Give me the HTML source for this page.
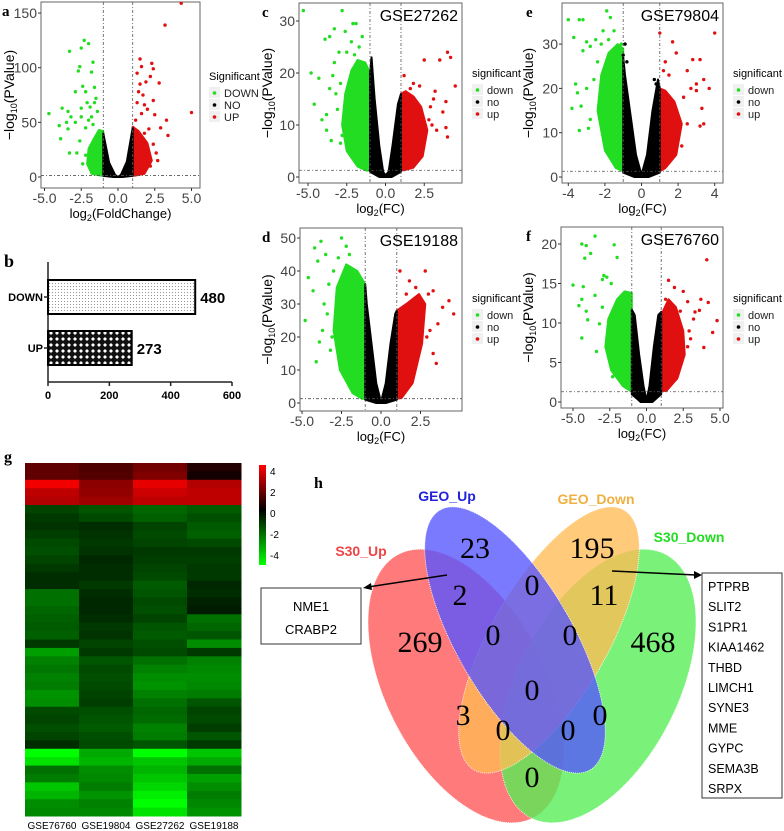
<!DOCTYPE html>
<html><head><meta charset="utf-8"><style>
body{margin:0;background:#fff;width:784px;height:831px;overflow:hidden}
svg{display:block;font-family:"Liberation Sans",sans-serif}
.ser{font-family:"Liberation Serif",serif}
</style></head><body>
<svg id="fig" width="784" height="831" viewBox="0 0 784 831" xmlns="http://www.w3.org/2000/svg">
<defs>
<pattern id="dots" width="3" height="3" patternUnits="userSpaceOnUse"><rect width="3" height="3" fill="#fff"/><rect x="1" y="1" width="1" height="1" fill="#999"/></pattern>
<pattern id="cross" width="6" height="6" patternUnits="userSpaceOnUse"><rect width="6" height="6" fill="#111"/><path d="M3 1 L5 3 L3 5 L1 3Z" fill="#fff"/></pattern>
<linearGradient id="cbar" x1="0" y1="0" x2="0" y2="1"><stop offset="0" stop-color="#ff0000"/><stop offset="0.45" stop-color="#000"/><stop offset="1" stop-color="#00ff00"/></linearGradient>
</defs>
<g id="panels"></g>
</svg>
<script>
// ---------- DATA ----------
const aGreen=[[-2.3,125],[-2.0,122],[-2.5,118],[-3.3,115],[-1.7,105],[-2.6,101],[-2.7,97],[-1.8,96],[-2.4,83],[-1.6,82],[-2.9,78],[-2.2,78],[-4.7,58],[-3.8,63],[-3.4,60],[-2.5,63],[-1.5,72],[-1.6,68],[-2.1,68],[-3.5,50],[-4.0,47],[-3.2,55],[-3.9,35],[-3.4,44],[-2.9,50],[-2.5,55],[-3.3,22],[-2.6,33],[-2.8,22],[-2.2,45],[-1.8,55],[-1.4,60],[-2.0,52],[-1.7,48],[-2.4,12],[-2.2,20],[-1.9,64]];
const aRed=[[3.2,139],[1.5,108],[2.3,104],[1.6,101],[2.4,99],[1.3,95],[2.2,92],[1.9,87],[1.5,85],[2.8,86],[5.0,59],[3.3,52],[3.4,38],[1.7,75],[2.4,70],[1.3,68],[2.0,62],[1.6,58],[2.5,57],[1.2,52],[2.9,45],[2.1,44],[1.8,40],[2.4,30],[2.6,22],[1.9,20],[2.7,15],[1.5,15],[2.2,10],[4.3,159],[1.4,78],[1.8,66]];
const aGreenCloud=[[-1,1.3],[-1,42],[-1.3,43],[-1.6,36],[-2.0,26],[-2.1,12],[-1.8,3],[-1.2,1.3]];
const aBlackCloud=[[-1,1],[-1,40],[-0.6,13],[-0.2,2],[0,0],[0.2,2],[0.6,14],[1,45],[1,1],[0.3,0],[-0.3,0]];
const aRedCloud=[[1,1.3],[1,46],[1.4,42],[2.0,31],[2.3,15],[1.8,3],[1.2,1.3]];

const cGreen=[[-5.3,32],[-2.8,32],[-2.1,29.5],[-1.9,29.5],[-3.3,28.5],[-3.6,27],[-3.9,26.5],[-2.6,28],[-4.8,20],[-4.3,19],[-4.6,14],[-3.8,12],[-4.1,11],[-3.8,9],[-3.5,7],[-3.3,22],[-3.6,17],[-3.0,24],[-2.9,18],[-3.1,13],[-2.8,8],[-2.2,26],[-1.7,25],[-1.5,27],[-3.2,16],[-2.9,6.5],[-2.5,24],[-2.0,23.5],[-3.4,19.5]];
const cRed=[[4.0,24],[4.2,23],[3.5,22.5],[2.5,22.5],[4.5,17.5],[3.1,15],[3.9,14.5],[3.2,16.5],[1.8,18],[1.2,19.5],[2.2,17.5],[3.7,12.5],[4.0,7.7],[3.3,9],[3.0,10],[3.9,9.5],[2.8,11],[2.9,13.5],[1.6,17]];
const cGreenCloud=[[-1,1.3],[-1,20],[-1.3,22],[-1.8,22.5],[-2.2,20.5],[-2.6,16],[-2.8,10],[-2.5,5],[-1.8,2],[-1.2,1.2]];
const cBlackCloud=[[-1,1],[-1,20],[-0.9,23],[-0.7,15],[-0.4,6],[-0.15,1],[0,0.3],[0.2,1],[0.45,6],[0.8,14],[1,16],[1,1],[0.4,0],[-0.4,0]];
const cRedCloud=[[1,1.3],[1,16],[1.3,16.5],[1.8,15.5],[2.3,13.5],[2.7,9],[2.4,4],[1.8,1.8],[1.2,1.3]];

const eGreen=[[-4,35.5],[-3.4,35.5],[-3.2,35.5],[-1.9,37.5],[-1.7,36],[-3.7,31.5],[-3,30.5],[-2.8,29.5],[-2.5,31],[-2.1,33],[-3.2,28.5],[-3.8,15.5],[-3.5,19],[-3.4,10.5],[-3.3,16],[-2.8,13],[-2.4,26],[-1.5,33],[-1.1,30],[-2.6,22],[-3.0,20],[-2.9,11],[-3.6,21],[-2.2,30],[-1.8,31]];
const eRed=[[4.0,32.5],[1.0,32.5],[1.7,30.5],[1.9,28],[1.3,26],[2.8,26.5],[3.2,26.5],[2.5,24],[3.4,22],[3.0,21],[2.7,20],[3.7,20],[3.0,19.5],[2.3,18],[3.3,15.5],[2.5,12],[3.4,12],[3.2,11.5],[2.2,7],[1.8,14],[1.5,23],[1.2,24]];
const eBlack=[[-0.9,30],[-1,27.5],[0.8,21],[0.7,22],[-0.8,26]];
const eGreenCloud=[[-1,1.3],[-1,29],[-1.3,30],[-1.8,28],[-2.2,23],[-2.4,15],[-2.0,6],[-1.4,2]];
const eBlackCloud=[[-1,1],[-1,27],[-0.9,23],[-0.6,14],[-0.3,5],[0,0.5],[0.3,5],[0.6,15],[0.9,22],[1,20],[1,1],[0.4,0],[-0.4,0]];
const eRedCloud=[[1,1.3],[1,20],[1.3,19.5],[1.8,17],[2.2,12],[1.9,5],[1.3,2]];

const dGreen=[[-2.5,50],[-3.8,49],[-4.2,47],[-2.2,47.5],[-3.5,45],[-4.0,43],[-4.6,38],[-4.8,25],[-3.9,18.5],[-4.1,12.5],[-3.2,16],[-3.6,30],[-3.3,36],[-4.3,34],[-3.0,40],[-2.9,24],[-2.0,45],[-1.6,37],[-3.7,22],[-3.4,27],[-2.7,44],[-3.1,20]];
const dRed=[[2.8,40],[1.2,40],[3.3,34],[3.0,33],[4.3,31],[4.6,27],[3.9,29],[2.2,35],[1.8,37],[3.5,12],[3.3,15],[2.9,20],[2.6,26],[3.1,22],[2.3,28],[1.6,33],[3.6,24]];
const dGreenCloud=[[-1,1.3],[-1,36],[-1.5,40],[-2.2,42],[-2.8,35],[-3.0,22],[-2.6,10],[-1.8,3],[-1.2,1.3]];
const dBlackCloud=[[-1,1],[-1,36],[-0.9,30],[-0.6,18],[-0.3,6],[0,0.3],[0.3,6],[0.6,18],[0.9,27],[1,28],[1,1],[0.3,0],[-0.3,0]];
const dRedCloud=[[1,1.3],[1,28],[1.6,30],[2.4,33],[2.8,30],[2.6,18],[2.0,6],[1.3,1.5]];

const fGreen=[[-3.5,21],[-4.4,20],[-4.1,19.8],[-2.2,19.9],[-3.8,18.8],[-2.0,18.3],[-4.2,18.2],[-5.0,14.8],[-4.3,14.6],[-2.9,16],[-3.0,15.5],[-2.7,15.8],[-2.4,15],[-4.4,13],[-4.6,12.2],[-4.1,11.5],[-4.0,10.4],[-4.4,8.1],[-3.2,9.9],[-3.4,6.4],[-2.3,3.2],[-2.6,7],[-3.0,12],[-3.5,13.5]];
const fRed=[[4.1,18],[1.5,15.4],[3.7,13],[4.2,12.6],[2.8,12.7],[3.3,11.4],[3.6,11.6],[4.8,10.3],[4.5,8.8],[3.2,10.5],[3.9,6.9],[2.9,9],[2.5,14],[1.9,14.5],[2.3,11.5],[3.0,8],[1.3,13],[2.8,7]];
const fGreenCloud=[[-1,1.3],[-1,13.8],[-1.5,14],[-2.0,13],[-2.6,10.5],[-2.8,7],[-2.4,4],[-1.6,2]];
const fBlackCloud=[[-1,1],[-1,11.7],[-0.8,11],[-0.5,6],[-0.2,2],[0,0.2],[0.2,2],[0.5,7],[0.8,11],[1,11.4],[1,1],[0.4,0],[-0.4,0]];
const fRedCloud=[[1,1.3],[1,11],[1.5,13],[2.0,12],[2.5,9],[2.6,6],[2.1,3],[1.4,1.5]];

const barCats=["DOWN","UP"];
const barVals=[480,273];
const barTicks=[0,200,400,600];

const heatCols=["GSE76760","GSE19804","GSE27262","GSE19188"];
const heatVals=[
[1.5,1.2,1.8,0.5],[1.5,1.3,2,0.3],[3.8,2.2,3.6,2.8],[3,2.3,3.2,3],[2.8,2.5,3,3],
[-1.2,-1.5,-1.8,-1.6],[-1.0,-1.3,-1.7,-1.4],[-0.9,-0.8,-1.2,-1.6],[-1.1,-0.9,-1.3,-1.7],[-1.3,-1.0,-1.2,-1.3],
[-1.4,-0.9,-1.0,-1.0],[-1.2,-0.7,-1.1,-1.1],[-1.0,-0.8,-1.2,-1.0],[-0.8,-0.8,-1.3,-1.0],[-0.8,-1.0,-1.6,-0.7],
[-2.0,-0.8,-1.5,-0.8],[-2.0,-0.7,-1.3,-0.6],[-1.8,-0.7,-1.4,-0.5],[-1.7,-0.8,-1.2,-2.0],[-1.6,-1.0,-1.5,-1.8],
[-1.7,-0.9,-1.6,-1.5],[-1.0,-1.2,-1.4,-2.5],[-2.8,-1.0,-1.3,-1.0],[-2.3,-1.5,-2.0,-2.3],[-2.1,-1.3,-2.3,-2.4],
[-2.3,-1.4,-2.5,-2.5],[-2.2,-1.3,-2.6,-2.4],[-2.6,-1.2,-2.3,-2.2],[-2.5,-1.1,-2.0,-1.5],[-1.3,-1.4,-1.8,-1.2],
[-1.2,-1.5,-1.9,-1.3],[-1.4,-1.6,-2.3,-1.1],[-1.2,-1.4,-2.2,-1.5],[-0.8,-1.3,-1.5,-1.0],[-4.5,-3.0,-4.8,-3.5],
[-4.0,-3.2,-3.5,-3.0],[-2.0,-2.5,-3.2,-2.0],[-2.2,-2.4,-3.5,-2.8],[-3.5,-2.2,-3.8,-2.5],[-3.2,-2.6,-4.2,-2.2],
[-2.5,-2.3,-4.5,-2.4],[-2.4,-2.4,-4.0,-2.6]];
const cbarTicks=[4,2,0,-2,-4];

const vennLabels=["S30_Up","GEO_Up","GEO_Down","S30_Down"];
const vennCounts=["23","195","2","0","11","269","0","0","468","0","3","0","0","0","0"];

// ---------- HELPERS ----------
const NS="http://www.w3.org/2000/svg";
const root=document.getElementById('panels');
function mk(tag,attrs,parent,text){const e=document.createElementNS(NS,tag);for(const k in attrs)e.setAttribute(k,attrs[k]);if(text!==undefined)e.textContent=text;(parent||root).appendChild(e);return e;}

function volcano(cfg){
  const g=mk('g',{});
  
  
  const X=v=>cfg.x0+v*cfg.ux, Y=v=>cfg.y0-v*cfg.uy;
  const bg=mk('rect',{x:cfg.l,y:cfg.t,width:cfg.r-cfg.l,height:cfg.b-cfg.t,fill:'#fff',stroke:'#666','stroke-width':1},g);
  
  
  const clipId='clip'+cfg.id;
  const cp=mk('clipPath',{id:clipId},g);mk('rect',{x:cfg.l,y:cfg.t,width:cfg.r-cfg.l,height:cfg.b-cfg.t},cp);
  const pg=mk('g',{'clip-path':'url(#'+clipId+')'},g);
  const poly=(arr,col,name)=>{const p=mk('polygon',{points:arr.map(d=>X(d[0])+','+Y(d[1])).join(' '),fill:col,stroke:col,'stroke-width':2,'stroke-linejoin':'round'},pg);
    
    };
  poly(cfg.gc,'#22dd22','down-cloud');
  poly(cfg.rc,'#e01010','up-cloud');
  poly(cfg.bc,'#000','no-cloud');
  const pts=(arr,col,name)=>arr.forEach(d=>{const c=mk('circle',{cx:X(d[0]),cy:Y(d[1]),r:1.7,fill:col},pg);
    
    });
  pts(cfg.gp,'#22dd22','down-point');pts(cfg.rp,'#e01010','up-point');if(cfg.bp)pts(cfg.bp,'#000','no-point');
  [-1,1].forEach(v=>mk('line',{x1:X(v),x2:X(v),y1:cfg.t,y2:cfg.b,stroke:'#555','stroke-dasharray':'3,2,1,2','stroke-width':0.8},pg));
  mk('line',{x1:cfg.l,x2:cfg.r,y1:Y(1.3),y2:Y(1.3),stroke:'#555','stroke-dasharray':'3,2,1,2','stroke-width':0.8},pg);
  cfg.xt.forEach(v=>{mk('line',{x1:X(v),x2:X(v),y1:cfg.b,y2:cfg.b+3,stroke:'#333'},g);
    const t=mk('text',{x:X(v),y:cfg.b+15,'text-anchor':'middle','font-size':14,fill:'#444'},g,cfg.xfmt(v));
    
    });
  cfg.yt.forEach(v=>{mk('line',{x1:cfg.l-3,x2:cfg.l,y1:Y(v),y2:Y(v),stroke:'#333'},g);
    const t=mk('text',{x:cfg.l-4,y:Y(v)+5,'text-anchor':'end','font-size':14,fill:'#444'},g,String(v));
    
    });
  const xt=mk('text',{x:(cfg.l+cfg.r)/2,y:cfg.b+30,'text-anchor':'middle','font-size':13},g);
  
  
  xt.innerHTML='log<tspan font-size="9" dy="3">2</tspan><tspan dy="-3">('+cfg.xlab+')</tspan>';
  const yc=(cfg.t+cfg.b)/2, yx=cfg.yx;
  const yt=mk('text',{x:yx,y:yc,'text-anchor':'middle','font-size':14,transform:'rotate(-90 '+yx+' '+yc+')'},g);
  
  
  yt.innerHTML='−log<tspan font-size="9" dy="3">10</tspan><tspan dy="-3">(PValue)</tspan>';
  if(cfg.gse){const s=mk('text',{x:cfg.r-4,y:cfg.t+18,'text-anchor':'end','font-size':16},g,cfg.gse);
    
    }
  const pl=mk('text',{x:cfg.px,y:cfg.t+14,'font-size':15,'font-weight':'bold',class:'ser'},g,cfg.id);
  
  
  const lg=mk('g',{},g);
  
  
  mk('text',{x:cfg.lx,y:cfg.ly,'font-size':11},lg,cfg.ltitle);
  cfg.litems.forEach((s,i)=>{const yy=cfg.ly+13+i*12;
    mk('rect',{x:cfg.lx,y:yy-6,width:11,height:11,fill:'#f0f0f0'},lg);
    mk('circle',{cx:cfg.lx+5.5,cy:yy,r:1.8,fill:['#22dd22','#000','#e01010'][i]},lg);
    const t=mk('text',{x:cfg.lx+15,y:yy+4,'font-size':11,fill:'#222'},lg,s);
    
    });
}
const f1=v=>v.toFixed(1);
const lo=['down','no','up'];
volcano({id:'a',l:41,r:200,t:2,b:188,x0:118,ux:14.7,y0:177,uy:1.093,xt:[-5,-2.5,0,2.5,5],xfmt:f1,yt:[0,50,100,150],
  gc:aGreenCloud,bc:aBlackCloud,rc:aRedCloud,gp:aGreen,rp:aRed,xlab:'FoldChange',yx:14,px:2,lx:209,ly:80,ltitle:'Significant',litems:['DOWN','NO','UP']});
volcano({id:'c',l:299,r:462,t:3,b:183,x0:385.5,ux:15.5,y0:177,uy:5.2,xt:[-5,-2.5,0,2.5],xfmt:f1,yt:[0,10,20,30],
  gc:cGreenCloud,bc:cBlackCloud,rc:cRedCloud,gp:cGreen,rp:cRed,xlab:'FC',yx:272,px:262,gse:'GSE27262',lx:472,ly:77,ltitle:'significant',litems:lo});
volcano({id:'e',l:562,r:723,t:3,b:183,x0:641.5,ux:18.3,y0:177,uy:4.43,xt:[-4,-2,0,2,4],xfmt:String,yt:[0,10,20,30],
  gc:eGreenCloud,bc:eBlackCloud,rc:eRedCloud,gp:eGreen,rp:eRed,bp:eBlack,xlab:'FC',yx:533,px:526,gse:'GSE79804',lx:733,ly:77,ltitle:'significant',litems:lo});
volcano({id:'d',l:300,r:462,t:228,b:411,x0:381,ux:15.8,y0:403,uy:3.3,xt:[-5,-2.5,0,2.5],xfmt:f1,yt:[0,10,20,30,40,50],
  gc:dGreenCloud,bc:dBlackCloud,rc:dRedCloud,gp:dGreen,rp:dRed,xlab:'FC',yx:272,px:262,gse:'GSE19188',lx:472,ly:302,ltitle:'significant',litems:lo});
volcano({id:'f',l:561,r:723,t:227,b:408,x0:646.5,ux:14.7,y0:402,uy:7.9,xt:[-5,-2.5,0,2.5,5],xfmt:f1,yt:[0,5,10,15,20],
  gc:fGreenCloud,bc:fBlackCloud,rc:fRedCloud,gp:fGreen,rp:fRed,xlab:'FC',yx:533,px:526,gse:'GSE76760',lx:733,ly:302,ltitle:'significant',litems:lo});

// ---------- BAR (b) ----------
(function(){
  const g=mk('g',{});
  
  
  const x0=48,ux=(232-48)/600,axY=382;
  const X=v=>x0+v*ux;
  const bandTop=[280,331],bandH=34;
  mk('text',{x:4,y:267,'font-size':18,'font-weight':'bold',class:'ser'},g,'b');
  mk('line',{x1:x0,x2:x0,y1:262,y2:axY,stroke:'#222','stroke-width':1.5},g);
  mk('line',{x1:x0,x2:X(600),y1:axY,y2:axY,stroke:'#222','stroke-width':1.5},g);
  barTicks.forEach(v=>{mk('line',{x1:X(v),x2:X(v),y1:axY,y2:axY+4,stroke:'#222','stroke-width':1.5},g);
    mk('text',{x:X(v),y:axY+17,'text-anchor':'middle','font-size':11,'font-weight':'bold'},g,String(v));});
  barCats.forEach((c,i)=>{
    const r=mk('rect',{x:x0,y:bandTop[i],width:X(barVals[i])-x0,height:bandH,fill:i?'url(#cross)':'url(#dots)',stroke:'#000','stroke-width':2},g);
    
    
    mk('line',{x1:x0-4,x2:x0,y1:bandTop[i]+bandH/2,y2:bandTop[i]+bandH/2,stroke:'#222','stroke-width':1.5},g);
    mk('text',{x:x0-5,y:bandTop[i]+bandH/2+4,'text-anchor':'end','font-size':11,'font-weight':'bold'},g,c);
    const t=mk('text',{x:X(barVals[i])+5,y:bandTop[i]+bandH/2+6,'font-size':15,'font-weight':'bold'},g,String(barVals[i]));
    
    
  });
})();

// ---------- HEATMAP (g) ----------
(function(){
  const g=mk('g',{});
  
  
  mk('text',{x:4,y:462,'font-size':16,'font-weight':'bold',class:'ser'},g,'g');
  const L=25,R=241,T=463,B=816;
  const cw=(R-L)/heatCols.length, rh=(B-T)/heatVals.length;
  const col=v=>v>=0?'rgb('+Math.min(255,Math.round(v/4*255))+',0,0)':'rgb(0,'+Math.min(255,Math.round(-v/4.5*255))+',0)';
  heatVals.forEach((row,i)=>row.forEach((v,j)=>{
    const c=mk('rect',{x:L+j*cw,y:T+i*rh,width:cw+0.5,height:rh+0.5,fill:col(v)},g);
    
    
  }));
  heatCols.forEach((n,j)=>{const t=mk('text',{x:L+j*cw+cw/2,y:829,'text-anchor':'middle','font-size':10},g,n);
    
    });
  const cb=mk('rect',{x:259,y:465,width:7,height:100,fill:'url(#cbar)'},g);
  
  
  const cy=v=>513-v*10.5;
  cbarTicks.forEach(v=>mk('text',{x:270,y:cy(v)+4,'font-size':10},g,String(v)));
})();

// ---------- VENN (h) ----------
(function(){
  const g=mk('g',{});
  
  
  mk('text',{x:314,y:488,'font-size':16,'font-weight':'bold',class:'ser'},g,'h');
  const ell=[[466,686,80,148,-27,'#ff5555'],[598,686,80,148,27,'#55ee55'],[549,640,58,150,30,'#ffbb55'],[515,640,58,150,-30,'#5555ff']];
  const names=['s30-up-set','s30-down-set','geo-down-set','geo-up-set'];
  ell.forEach((e,i)=>{const el=mk('ellipse',{cx:e[0],cy:e[1],rx:e[2],ry:e[3],transform:'rotate('+e[4]+' '+e[0]+' '+e[1]+')',fill:e[5],'fill-opacity':0.78,stroke:'#fff','stroke-dasharray':'1,1','stroke-width':0.8},g);
    
    });
  const lab=[[361,556,'#ee4444'],[447,501,'#2222dd'],[596,504,'#f0b040'],[689,542,'#22dd22']];
  vennLabels.forEach((n,i)=>{const t=mk('text',{x:lab[i][0],y:lab[i][1],'text-anchor':'middle','font-size':14,'font-weight':'bold',fill:lab[i][2]},g,n);
    
    });
  const pos=[[475,558],[592,558],[460,605],[532,595],[604,605],[420,652],[493,645],[570,645],[653,652],[532,700],[463,725],[503,740],[568,740],[600,725],[532,787]];
  vennCounts.forEach((n,i)=>{const t=mk('text',{x:pos[i][0],y:pos[i][1],'text-anchor':'middle','font-size':30,class:'ser'},g,n);
    
    });
  mk('line',{x1:447,y1:575,x2:368,y2:587,stroke:'#000','stroke-width':1.5},g);
  mk('polygon',{points:'363,588 371,583 372,590'},g);
  const b1=mk('rect',{x:261,y:588,width:100,height:56,fill:'#fff',stroke:'#333'},g);
  
  
  mk('text',{x:311,y:611,'text-anchor':'middle','font-size':13},g,'NME1');
  mk('text',{x:311,y:634,'text-anchor':'middle','font-size':13},g,'CRABP2');
  mk('line',{x1:612,y1:571,x2:696,y2:575,stroke:'#000','stroke-width':1.5},g);
  mk('polygon',{points:'702,575 694,571 694,579'},g);
  const b2=mk('rect',{x:702,y:573,width:80,height:225,fill:'#fff',stroke:'#333'},g);
  
  
  ['PTPRB','SLIT2','S1PR1','KIAA1462','THBD','LIMCH1','SYNE3','MME','GYPC','SEMA3B','SRPX'].forEach((s,i)=>mk('text',{x:708,y:591+i*20.2,'font-size':12.5},g,s));
})();
</script>
</body></html>
